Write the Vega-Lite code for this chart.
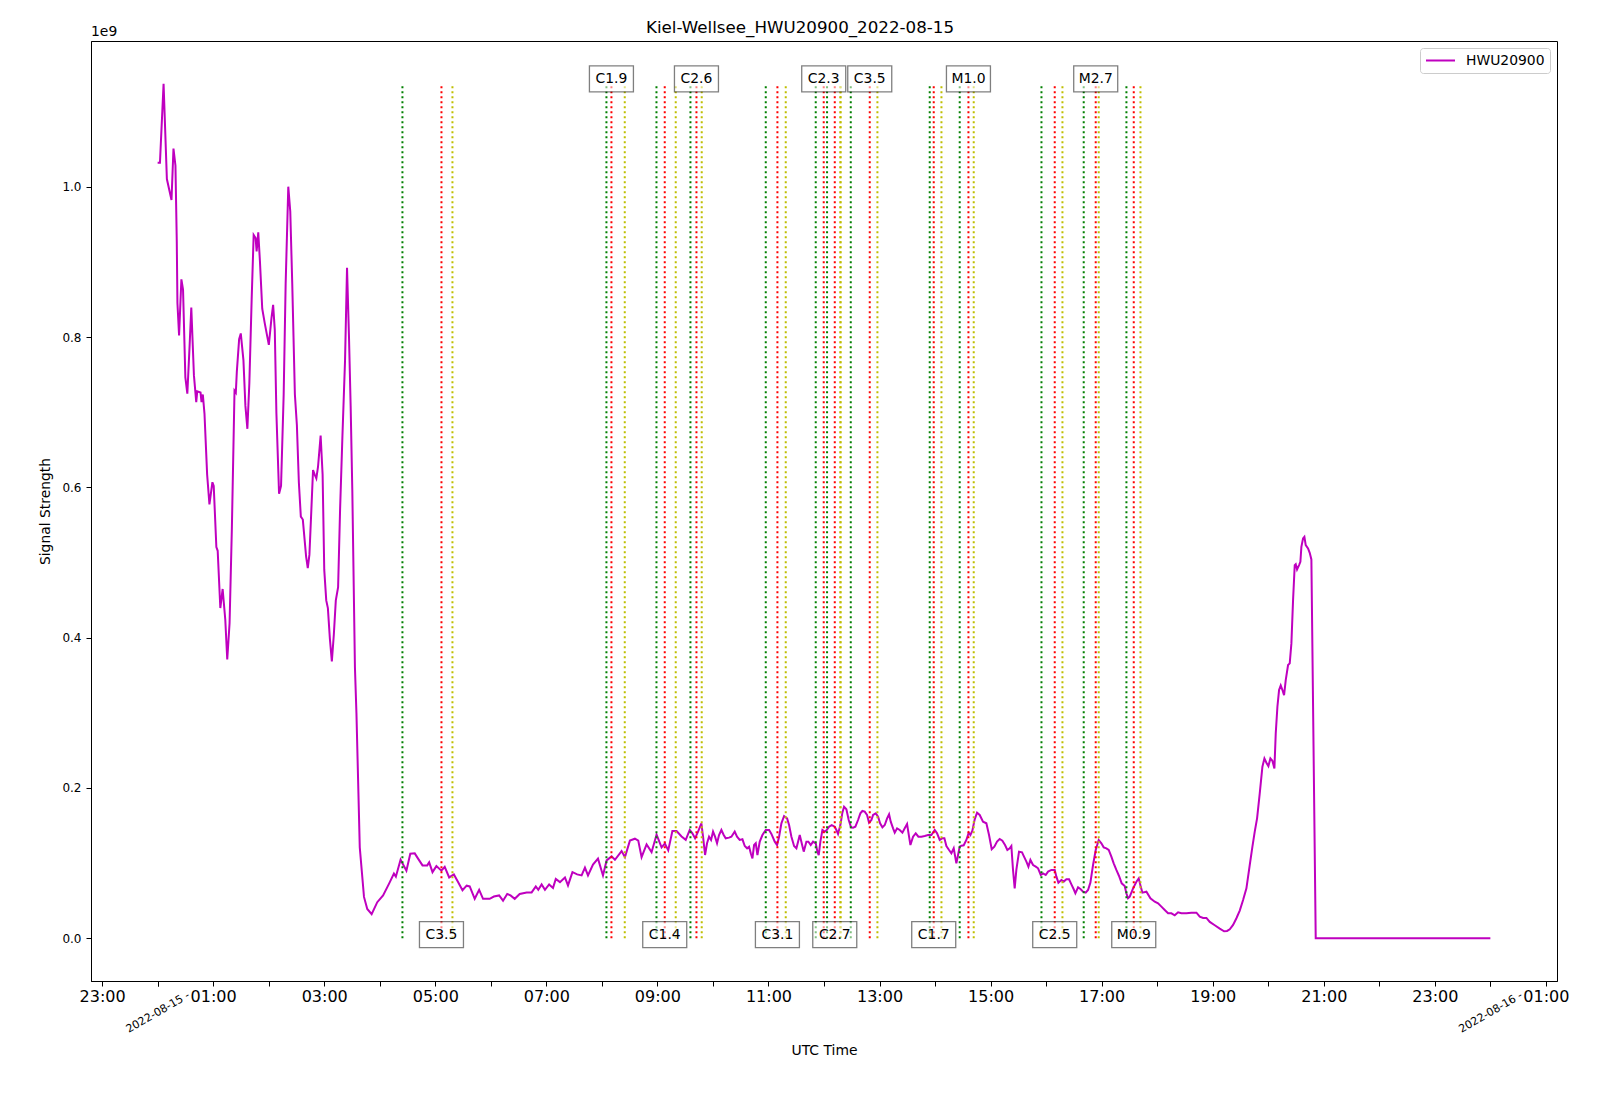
{
  "$schema": "https://vega.github.io/schema/vega-lite/v6.json",
  "width": 1466,
  "height": 940,
  "autosize": {"type": "none"},
  "padding": {"left": 91, "top": 41, "right": 43, "bottom": 121},
  "background": "white",
  "title": {
    "text": "Kiel-Wellsee_HWU20900_2022-08-15",
    "font": "DejaVu Sans",
    "fontSize": 16.7,
    "fontWeight": "normal",
    "color": "black",
    "anchor": "middle",
    "frame": "group",
    "dx": -24,
    "offset": -25,
    "baseline": "alphabetic"
  },
  "datasets": {
    "signal": [
      {"t": "2022-08-15T00:00:00Z", "v": 1.0324e9},
      {"t": "2022-08-15T00:02:30Z", "v": 1.0324e9},
      {"t": "2022-08-15T00:06:25Z", "v": 1.1374e9},
      {"t": "2022-08-15T00:09:59Z", "v": 1.0106e9},
      {"t": "2022-08-15T00:14:59Z", "v": 0.9827e9},
      {"t": "2022-08-15T00:17:07Z", "v": 1.0512e9},
      {"t": "2022-08-15T00:19:15Z", "v": 1.0284e9},
      {"t": "2022-08-15T00:20:41Z", "v": 0.9268e9},
      {"t": "2022-08-15T00:21:23Z", "v": 0.8456e9},
      {"t": "2022-08-15T00:23:10Z", "v": 0.8025e9},
      {"t": "2022-08-15T00:25:40Z", "v": 0.8771e9},
      {"t": "2022-08-15T00:27:27Z", "v": 0.8634e9},
      {"t": "2022-08-15T00:29:57Z", "v": 0.7466e9},
      {"t": "2022-08-15T00:32:05Z", "v": 0.7248e9},
      {"t": "2022-08-15T00:34:35Z", "v": 0.7898e9},
      {"t": "2022-08-15T00:36:22Z", "v": 0.8395e9},
      {"t": "2022-08-15T00:39:13Z", "v": 0.7492e9},
      {"t": "2022-08-15T00:41:43Z", "v": 0.7137e9},
      {"t": "2022-08-15T00:42:47Z", "v": 0.7279e9},
      {"t": "2022-08-15T00:46:21Z", "v": 0.7263e9},
      {"t": "2022-08-15T00:47:25Z", "v": 0.7137e9},
      {"t": "2022-08-15T00:48:50Z", "v": 0.7238e9},
      {"t": "2022-08-15T00:50:37Z", "v": 0.6984e9},
      {"t": "2022-08-15T00:53:29Z", "v": 0.6172e9},
      {"t": "2022-08-15T00:55:58Z", "v": 0.5776e9},
      {"t": "2022-08-15T00:59:11Z", "v": 0.6070e9},
      {"t": "2022-08-15T01:00:36Z", "v": 0.6020e9},
      {"t": "2022-08-15T01:03:27Z", "v": 0.5207e9},
      {"t": "2022-08-15T01:04:53Z", "v": 0.5157e9},
      {"t": "2022-08-15T01:07:44Z", "v": 0.4395e9},
      {"t": "2022-08-15T01:10:14Z", "v": 0.4649e9},
      {"t": "2022-08-15T01:13:05Z", "v": 0.4243e9},
      {"t": "2022-08-15T01:15:13Z", "v": 0.3710e9},
      {"t": "2022-08-15T01:17:43Z", "v": 0.4192e9},
      {"t": "2022-08-15T01:20:13Z", "v": 0.5461e9},
      {"t": "2022-08-15T01:23:04Z", "v": 0.7289e9},
      {"t": "2022-08-15T01:24:29Z", "v": 0.7263e9},
      {"t": "2022-08-15T01:25:34Z", "v": 0.7542e9},
      {"t": "2022-08-15T01:28:03Z", "v": 0.7974e9},
      {"t": "2022-08-15T01:29:50Z", "v": 0.8050e9},
      {"t": "2022-08-15T01:32:42Z", "v": 0.7695e9},
      {"t": "2022-08-15T01:34:50Z", "v": 0.7086e9},
      {"t": "2022-08-15T01:36:58Z", "v": 0.6781e9},
      {"t": "2022-08-15T01:39:06Z", "v": 0.7390e9},
      {"t": "2022-08-15T01:41:36Z", "v": 0.8507e9},
      {"t": "2022-08-15T01:43:45Z", "v": 0.9360e9},
      {"t": "2022-08-15T01:45:53Z", "v": 0.9319e9},
      {"t": "2022-08-15T01:46:57Z", "v": 0.9142e9},
      {"t": "2022-08-15T01:48:44Z", "v": 0.9396e9},
      {"t": "2022-08-15T01:50:31Z", "v": 0.9014e9},
      {"t": "2022-08-15T01:53:01Z", "v": 0.8380e9},
      {"t": "2022-08-15T01:55:52Z", "v": 0.8177e9},
      {"t": "2022-08-15T02:00:09Z", "v": 0.7898e9},
      {"t": "2022-08-15T02:03:00Z", "v": 0.8253e9},
      {"t": "2022-08-15T02:04:47Z", "v": 0.8431e9},
      {"t": "2022-08-15T02:06:34Z", "v": 0.8101e9},
      {"t": "2022-08-15T02:08:20Z", "v": 0.6984e9},
      {"t": "2022-08-15T02:11:12Z", "v": 0.5918e9},
      {"t": "2022-08-15T02:13:20Z", "v": 0.6020e9},
      {"t": "2022-08-15T02:16:11Z", "v": 0.7238e9},
      {"t": "2022-08-15T02:18:19Z", "v": 0.8710e9},
      {"t": "2022-08-15T02:21:10Z", "v": 1.0004e9},
      {"t": "2022-08-15T02:23:19Z", "v": 0.9674e9},
      {"t": "2022-08-15T02:25:27Z", "v": 0.8710e9},
      {"t": "2022-08-15T02:28:18Z", "v": 0.7238e9},
      {"t": "2022-08-15T02:30:27Z", "v": 0.6832e9},
      {"t": "2022-08-15T02:32:35Z", "v": 0.6070e9},
      {"t": "2022-08-15T02:34:43Z", "v": 0.5613e9},
      {"t": "2022-08-15T02:36:52Z", "v": 0.5573e9},
      {"t": "2022-08-15T02:40:26Z", "v": 0.5080e9},
      {"t": "2022-08-15T02:42:13Z", "v": 0.4928e9},
      {"t": "2022-08-15T02:44:00Z", "v": 0.5106e9},
      {"t": "2022-08-15T02:46:08Z", "v": 0.5715e9},
      {"t": "2022-08-15T02:47:55Z", "v": 0.6233e9},
      {"t": "2022-08-15T02:49:42Z", "v": 0.6172e9},
      {"t": "2022-08-15T02:51:29Z", "v": 0.6121e9},
      {"t": "2022-08-15T02:53:16Z", "v": 0.6273e9},
      {"t": "2022-08-15T02:56:07Z", "v": 0.6690e9},
      {"t": "2022-08-15T02:58:15Z", "v": 0.6172e9},
      {"t": "2022-08-15T03:00:02Z", "v": 0.4903e9},
      {"t": "2022-08-15T03:02:11Z", "v": 0.4497e9},
      {"t": "2022-08-15T03:03:57Z", "v": 0.4395e9},
      {"t": "2022-08-15T03:06:06Z", "v": 0.3989e9},
      {"t": "2022-08-15T03:08:14Z", "v": 0.3684e9},
      {"t": "2022-08-15T03:10:22Z", "v": 0.4040e9},
      {"t": "2022-08-15T03:12:31Z", "v": 0.4497e9},
      {"t": "2022-08-15T03:15:00Z", "v": 0.4674e9},
      {"t": "2022-08-15T03:17:09Z", "v": 0.5715e9},
      {"t": "2022-08-15T03:19:39Z", "v": 0.6679e9},
      {"t": "2022-08-15T03:22:30Z", "v": 0.7695e9},
      {"t": "2022-08-15T03:24:38Z", "v": 0.8923e9},
      {"t": "2022-08-15T03:26:46Z", "v": 0.8000e9},
      {"t": "2022-08-15T03:28:33Z", "v": 0.7086e9},
      {"t": "2022-08-15T03:30:20Z", "v": 0.5969e9},
      {"t": "2022-08-15T03:33:11Z", "v": 0.3603e9},
      {"t": "2022-08-15T03:34:48Z", "v": 0.300e9},
      {"t": "2022-08-15T03:38:24Z", "v": 0.121e9},
      {"t": "2022-08-15T03:42:58Z", "v": 0.055e9},
      {"t": "2022-08-15T03:46:30Z", "v": 0.039e9},
      {"t": "2022-08-15T03:51:14Z", "v": 0.032e9},
      {"t": "2022-08-15T03:57:18Z", "v": 0.048e9},
      {"t": "2022-08-15T04:03:36Z", "v": 0.057e9},
      {"t": "2022-08-15T04:10:12Z", "v": 0.073e9},
      {"t": "2022-08-15T04:15:18Z", "v": 0.086e9},
      {"t": "2022-08-15T04:17:24Z", "v": 0.082e9},
      {"t": "2022-08-15T04:22:30Z", "v": 0.1045e9},
      {"t": "2022-08-15T04:28:48Z", "v": 0.090e9},
      {"t": "2022-08-15T04:33:00Z", "v": 0.1125e9},
      {"t": "2022-08-15T04:37:48Z", "v": 0.113e9},
      {"t": "2022-08-15T04:41:24Z", "v": 0.106e9},
      {"t": "2022-08-15T04:46:12Z", "v": 0.097e9},
      {"t": "2022-08-15T04:51:18Z", "v": 0.097e9},
      {"t": "2022-08-15T04:53:24Z", "v": 0.101e9},
      {"t": "2022-08-15T04:57:00Z", "v": 0.088e9},
      {"t": "2022-08-15T05:01:12Z", "v": 0.096e9},
      {"t": "2022-08-15T05:06:36Z", "v": 0.090e9},
      {"t": "2022-08-15T05:10:12Z", "v": 0.095e9},
      {"t": "2022-08-15T05:15:00Z", "v": 0.081e9},
      {"t": "2022-08-15T05:20:06Z", "v": 0.085e9},
      {"t": "2022-08-15T05:24:36Z", "v": 0.075e9},
      {"t": "2022-08-15T05:29:24Z", "v": 0.064e9},
      {"t": "2022-08-15T05:33:54Z", "v": 0.070e9},
      {"t": "2022-08-15T05:37:12Z", "v": 0.069e9},
      {"t": "2022-08-15T05:42:36Z", "v": 0.0525e9},
      {"t": "2022-08-15T05:47:24Z", "v": 0.0645e9},
      {"t": "2022-08-15T05:51:36Z", "v": 0.0525e9},
      {"t": "2022-08-15T05:58:48Z", "v": 0.0525e9},
      {"t": "2022-08-15T06:03:18Z", "v": 0.0555e9},
      {"t": "2022-08-15T06:09:00Z", "v": 0.057e9},
      {"t": "2022-08-15T06:13:12Z", "v": 0.050e9},
      {"t": "2022-08-15T06:17:42Z", "v": 0.059e9},
      {"t": "2022-08-15T06:21:18Z", "v": 0.057e9},
      {"t": "2022-08-15T06:25:48Z", "v": 0.0525e9},
      {"t": "2022-08-15T06:31:12Z", "v": 0.059e9},
      {"t": "2022-08-15T06:38:42Z", "v": 0.061e9},
      {"t": "2022-08-15T06:44:06Z", "v": 0.061e9},
      {"t": "2022-08-15T06:48:36Z", "v": 0.069e9},
      {"t": "2022-08-15T06:51:18Z", "v": 0.0645e9},
      {"t": "2022-08-15T06:54:54Z", "v": 0.0716e9},
      {"t": "2022-08-15T06:58:30Z", "v": 0.0645e9},
      {"t": "2022-08-15T07:03:00Z", "v": 0.0716e9},
      {"t": "2022-08-15T07:07:12Z", "v": 0.067e9},
      {"t": "2022-08-15T07:10:12Z", "v": 0.079e9},
      {"t": "2022-08-15T07:14:42Z", "v": 0.0747e9},
      {"t": "2022-08-15T07:20:06Z", "v": 0.081e9},
      {"t": "2022-08-15T07:23:24Z", "v": 0.0703e9},
      {"t": "2022-08-15T07:28:12Z", "v": 0.088e9},
      {"t": "2022-08-15T07:33:18Z", "v": 0.085e9},
      {"t": "2022-08-15T07:38:06Z", "v": 0.0836e9},
      {"t": "2022-08-15T07:41:42Z", "v": 0.094e9},
      {"t": "2022-08-15T07:45:00Z", "v": 0.0836e9},
      {"t": "2022-08-15T07:50:24Z", "v": 0.098e9},
      {"t": "2022-08-15T07:55:48Z", "v": 0.106e9},
      {"t": "2022-08-15T08:01:12Z", "v": 0.0836e9},
      {"t": "2022-08-15T08:05:06Z", "v": 0.1036e9},
      {"t": "2022-08-15T08:10:30Z", "v": 0.109e9},
      {"t": "2022-08-15T08:14:06Z", "v": 0.1045e9},
      {"t": "2022-08-15T08:21:18Z", "v": 0.116e9},
      {"t": "2022-08-15T08:24:54Z", "v": 0.108e9},
      {"t": "2022-08-15T08:30:18Z", "v": 0.130e9},
      {"t": "2022-08-15T08:35:42Z", "v": 0.1325e9},
      {"t": "2022-08-15T08:39:18Z", "v": 0.130e9},
      {"t": "2022-08-15T08:42:54Z", "v": 0.108e9},
      {"t": "2022-08-15T08:48:18Z", "v": 0.125e9},
      {"t": "2022-08-15T08:53:42Z", "v": 0.1146e9},
      {"t": "2022-08-15T08:59:06Z", "v": 0.138e9},
      {"t": "2022-08-15T09:04:30Z", "v": 0.121e9},
      {"t": "2022-08-15T09:08:06Z", "v": 0.126e9},
      {"t": "2022-08-15T09:11:42Z", "v": 0.117e9},
      {"t": "2022-08-15T09:16:12Z", "v": 0.1426e9},
      {"t": "2022-08-15T09:20:42Z", "v": 0.1426e9},
      {"t": "2022-08-15T09:26:06Z", "v": 0.1355e9},
      {"t": "2022-08-15T09:30:36Z", "v": 0.131e9},
      {"t": "2022-08-15T09:34:55Z", "v": 0.1441e9},
      {"t": "2022-08-15T09:37:48Z", "v": 0.1397e9},
      {"t": "2022-08-15T09:40:41Z", "v": 0.1330e9},
      {"t": "2022-08-15T09:43:55Z", "v": 0.1419e9},
      {"t": "2022-08-15T09:47:31Z", "v": 0.1530e9},
      {"t": "2022-08-15T09:49:19Z", "v": 0.1352e9},
      {"t": "2022-08-15T09:51:29Z", "v": 0.1108e9},
      {"t": "2022-08-15T09:53:38Z", "v": 0.1264e9},
      {"t": "2022-08-15T09:55:48Z", "v": 0.1352e9},
      {"t": "2022-08-15T09:57:58Z", "v": 0.1308e9},
      {"t": "2022-08-15T10:00:07Z", "v": 0.1419e9},
      {"t": "2022-08-15T10:02:17Z", "v": 0.1352e9},
      {"t": "2022-08-15T10:04:26Z", "v": 0.1264e9},
      {"t": "2022-08-15T10:06:36Z", "v": 0.1374e9},
      {"t": "2022-08-15T10:09:07Z", "v": 0.1441e9},
      {"t": "2022-08-15T10:11:38Z", "v": 0.1374e9},
      {"t": "2022-08-15T10:13:48Z", "v": 0.1330e9},
      {"t": "2022-08-15T10:17:24Z", "v": 0.1339e9},
      {"t": "2022-08-15T10:19:55Z", "v": 0.1352e9},
      {"t": "2022-08-15T10:23:31Z", "v": 0.1419e9},
      {"t": "2022-08-15T10:26:02Z", "v": 0.1352e9},
      {"t": "2022-08-15T10:28:55Z", "v": 0.1308e9},
      {"t": "2022-08-15T10:31:52Z", "v": 0.1317e9},
      {"t": "2022-08-15T10:34:23Z", "v": 0.1228e9},
      {"t": "2022-08-15T10:36:54Z", "v": 0.1197e9},
      {"t": "2022-08-15T10:39:04Z", "v": 0.1219e9},
      {"t": "2022-08-15T10:40:52Z", "v": 0.1131e9},
      {"t": "2022-08-15T10:42:40Z", "v": 0.1064e9},
      {"t": "2022-08-15T10:44:28Z", "v": 0.1241e9},
      {"t": "2022-08-15T10:46:16Z", "v": 0.1264e9},
      {"t": "2022-08-15T10:48:04Z", "v": 0.1108e9},
      {"t": "2022-08-15T10:50:35Z", "v": 0.1286e9},
      {"t": "2022-08-15T10:53:28Z", "v": 0.1374e9},
      {"t": "2022-08-15T10:57:04Z", "v": 0.1441e9},
      {"t": "2022-08-15T11:00:40Z", "v": 0.1441e9},
      {"t": "2022-08-15T11:03:11Z", "v": 0.1388e9},
      {"t": "2022-08-15T11:06:47Z", "v": 0.1286e9},
      {"t": "2022-08-15T11:09:18Z", "v": 0.1241e9},
      {"t": "2022-08-15T11:11:28Z", "v": 0.1352e9},
      {"t": "2022-08-15T11:13:59Z", "v": 0.1530e9},
      {"t": "2022-08-15T11:16:52Z", "v": 0.1627e9},
      {"t": "2022-08-15T11:20:06Z", "v": 0.1596e9},
      {"t": "2022-08-15T11:22:16Z", "v": 0.1507e9},
      {"t": "2022-08-15T11:24:47Z", "v": 0.1352e9},
      {"t": "2022-08-15T11:27:40Z", "v": 0.1228e9},
      {"t": "2022-08-15T11:30:11Z", "v": 0.1197e9},
      {"t": "2022-08-15T11:31:59Z", "v": 0.1286e9},
      {"t": "2022-08-15T11:33:47Z", "v": 0.1374e9},
      {"t": "2022-08-15T11:35:56Z", "v": 0.1264e9},
      {"t": "2022-08-15T11:38:06Z", "v": 0.1153e9},
      {"t": "2022-08-15T11:40:59Z", "v": 0.1286e9},
      {"t": "2022-08-15T11:43:08Z", "v": 0.1286e9},
      {"t": "2022-08-15T11:45:40Z", "v": 0.1241e9},
      {"t": "2022-08-15T11:48:11Z", "v": 0.1286e9},
      {"t": "2022-08-15T11:51:04Z", "v": 0.1264e9},
      {"t": "2022-08-15T11:52:52Z", "v": 0.1153e9},
      {"t": "2022-08-15T11:54:18Z", "v": 0.1108e9},
      {"t": "2022-08-15T11:56:06Z", "v": 0.1286e9},
      {"t": "2022-08-15T11:58:16Z", "v": 0.1441e9},
      {"t": "2022-08-15T12:00:47Z", "v": 0.1419e9},
      {"t": "2022-08-15T12:02:56Z", "v": 0.1441e9},
      {"t": "2022-08-15T12:05:28Z", "v": 0.1485e9},
      {"t": "2022-08-15T12:08:20Z", "v": 0.1507e9},
      {"t": "2022-08-15T12:11:35Z", "v": 0.1485e9},
      {"t": "2022-08-15T12:13:23Z", "v": 0.1441e9},
      {"t": "2022-08-15T12:15:11Z", "v": 0.1388e9},
      {"t": "2022-08-15T12:17:42Z", "v": 0.1507e9},
      {"t": "2022-08-15T12:19:52Z", "v": 0.1672e9},
      {"t": "2022-08-15T12:21:40Z", "v": 0.1751e9},
      {"t": "2022-08-15T12:24:11Z", "v": 0.1716e9},
      {"t": "2022-08-15T12:26:42Z", "v": 0.1574e9},
      {"t": "2022-08-15T12:29:13Z", "v": 0.1476e9},
      {"t": "2022-08-15T12:31:23Z", "v": 0.1472e9},
      {"t": "2022-08-15T12:33:54Z", "v": 0.1485e9},
      {"t": "2022-08-15T12:36:47Z", "v": 0.1574e9},
      {"t": "2022-08-15T12:39:18Z", "v": 0.1663e9},
      {"t": "2022-08-15T12:41:28Z", "v": 0.1694e9},
      {"t": "2022-08-15T12:43:59Z", "v": 0.1685e9},
      {"t": "2022-08-15T12:46:30Z", "v": 0.1641e9},
      {"t": "2022-08-15T12:48:40Z", "v": 0.1539e9},
      {"t": "2022-08-15T12:51:14Z", "v": 0.1574e9},
      {"t": "2022-08-15T12:53:02Z", "v": 0.1641e9},
      {"t": "2022-08-15T12:55:55Z", "v": 0.1663e9},
      {"t": "2022-08-15T12:58:26Z", "v": 0.1618e9},
      {"t": "2022-08-15T13:00:36Z", "v": 0.1530e9},
      {"t": "2022-08-15T13:03:07Z", "v": 0.1476e9},
      {"t": "2022-08-15T13:05:38Z", "v": 0.1507e9},
      {"t": "2022-08-15T13:08:10Z", "v": 0.1596e9},
      {"t": "2022-08-15T13:10:19Z", "v": 0.1650e9},
      {"t": "2022-08-15T13:12:07Z", "v": 0.1552e9},
      {"t": "2022-08-15T13:14:38Z", "v": 0.1463e9},
      {"t": "2022-08-15T13:16:26Z", "v": 0.1405e9},
      {"t": "2022-08-15T13:18:58Z", "v": 0.1463e9},
      {"t": "2022-08-15T13:21:50Z", "v": 0.1441e9},
      {"t": "2022-08-15T13:24:43Z", "v": 0.1405e9},
      {"t": "2022-08-15T13:27:14Z", "v": 0.1463e9},
      {"t": "2022-08-15T13:29:46Z", "v": 0.1521e9},
      {"t": "2022-08-15T13:31:55Z", "v": 0.1352e9},
      {"t": "2022-08-15T13:33:22Z", "v": 0.1241e9},
      {"t": "2022-08-15T13:36:14Z", "v": 0.1352e9},
      {"t": "2022-08-15T13:39:07Z", "v": 0.1397e9},
      {"t": "2022-08-15T13:42:00Z", "v": 0.1352e9},
      {"t": "2022-08-15T13:45:14Z", "v": 0.1352e9},
      {"t": "2022-08-15T13:48:50Z", "v": 0.1361e9},
      {"t": "2022-08-15T13:52:26Z", "v": 0.1374e9},
      {"t": "2022-08-15T13:56:02Z", "v": 0.1374e9},
      {"t": "2022-08-15T13:59:38Z", "v": 0.1441e9},
      {"t": "2022-08-15T14:02:10Z", "v": 0.1397e9},
      {"t": "2022-08-15T14:05:02Z", "v": 0.1308e9},
      {"t": "2022-08-15T14:07:34Z", "v": 0.1330e9},
      {"t": "2022-08-15T14:10:05Z", "v": 0.1330e9},
      {"t": "2022-08-15T14:12:14Z", "v": 0.1228e9},
      {"t": "2022-08-15T14:15:07Z", "v": 0.1175e9},
      {"t": "2022-08-15T14:17:38Z", "v": 0.1131e9},
      {"t": "2022-08-15T14:20:10Z", "v": 0.1197e9},
      {"t": "2022-08-15T14:23:02Z", "v": 0.0997e9},
      {"t": "2022-08-15T14:24:50Z", "v": 0.1108e9},
      {"t": "2022-08-15T14:26:38Z", "v": 0.1219e9},
      {"t": "2022-08-15T14:28:26Z", "v": 0.1232e9},
      {"t": "2022-08-15T14:30:58Z", "v": 0.1237e9},
      {"t": "2022-08-15T14:33:50Z", "v": 0.1308e9},
      {"t": "2022-08-15T14:36:22Z", "v": 0.1405e9},
      {"t": "2022-08-15T14:38:10Z", "v": 0.1374e9},
      {"t": "2022-08-15T14:40:19Z", "v": 0.1432e9},
      {"t": "2022-08-15T14:42:50Z", "v": 0.1583e9},
      {"t": "2022-08-15T14:45:22Z", "v": 0.1672e9},
      {"t": "2022-08-15T14:48:14Z", "v": 0.1641e9},
      {"t": "2022-08-15T14:51:50Z", "v": 0.1552e9},
      {"t": "2022-08-15T14:55:26Z", "v": 0.1530e9},
      {"t": "2022-08-15T14:58:19Z", "v": 0.1374e9},
      {"t": "2022-08-15T15:01:12Z", "v": 0.1184e9},
      {"t": "2022-08-15T15:04:05Z", "v": 0.1219e9},
      {"t": "2022-08-15T15:06:58Z", "v": 0.1286e9},
      {"t": "2022-08-15T15:09:50Z", "v": 0.1321e9},
      {"t": "2022-08-15T15:12:43Z", "v": 0.1299e9},
      {"t": "2022-08-15T15:15:36Z", "v": 0.1241e9},
      {"t": "2022-08-15T15:18:07Z", "v": 0.1175e9},
      {"t": "2022-08-15T15:20:38Z", "v": 0.1197e9},
      {"t": "2022-08-15T15:22:26Z", "v": 0.1228e9},
      {"t": "2022-08-15T15:24:14Z", "v": 0.0909e9},
      {"t": "2022-08-15T15:26:02Z", "v": 0.0665e9},
      {"t": "2022-08-15T15:27:50Z", "v": 0.0909e9},
      {"t": "2022-08-15T15:30:43Z", "v": 0.1153e9},
      {"t": "2022-08-15T15:33:58Z", "v": 0.1144e9},
      {"t": "2022-08-15T15:36:07Z", "v": 0.1086e9},
      {"t": "2022-08-15T15:38:42Z", "v": 0.1020e9},
      {"t": "2022-08-15T15:40:52Z", "v": 0.0953e9},
      {"t": "2022-08-15T15:43:01Z", "v": 0.1042e9},
      {"t": "2022-08-15T15:45:54Z", "v": 0.0975e9},
      {"t": "2022-08-15T15:48:47Z", "v": 0.0953e9},
      {"t": "2022-08-15T15:51:18Z", "v": 0.0931e9},
      {"t": "2022-08-15T15:54:11Z", "v": 0.0842e9},
      {"t": "2022-08-15T15:56:42Z", "v": 0.0864e9},
      {"t": "2022-08-15T15:59:35Z", "v": 0.0842e9},
      {"t": "2022-08-15T16:02:06Z", "v": 0.0887e9},
      {"t": "2022-08-15T16:05:42Z", "v": 0.0909e9},
      {"t": "2022-08-15T16:09:18Z", "v": 0.0909e9},
      {"t": "2022-08-15T16:11:06Z", "v": 0.0820e9},
      {"t": "2022-08-15T16:13:16Z", "v": 0.0740e9},
      {"t": "2022-08-15T16:16:30Z", "v": 0.0776e9},
      {"t": "2022-08-15T16:19:01Z", "v": 0.0754e9},
      {"t": "2022-08-15T16:21:54Z", "v": 0.0785e9},
      {"t": "2022-08-15T16:24:47Z", "v": 0.0785e9},
      {"t": "2022-08-15T16:27:18Z", "v": 0.0718e9},
      {"t": "2022-08-15T16:29:49Z", "v": 0.0652e9},
      {"t": "2022-08-15T16:31:37Z", "v": 0.0598e9},
      {"t": "2022-08-15T16:34:30Z", "v": 0.0678e9},
      {"t": "2022-08-15T16:37:23Z", "v": 0.0652e9},
      {"t": "2022-08-15T16:39:54Z", "v": 0.0620e9},
      {"t": "2022-08-15T16:42:47Z", "v": 0.0607e9},
      {"t": "2022-08-15T16:45:18Z", "v": 0.0643e9},
      {"t": "2022-08-15T16:47:49Z", "v": 0.0740e9},
      {"t": "2022-08-15T16:50:42Z", "v": 0.0975e9},
      {"t": "2022-08-15T16:53:35Z", "v": 0.1175e9},
      {"t": "2022-08-15T16:56:49Z", "v": 0.1308e9},
      {"t": "2022-08-15T16:59:42Z", "v": 0.1264e9},
      {"t": "2022-08-15T17:02:13Z", "v": 0.1210e9},
      {"t": "2022-08-15T17:05:06Z", "v": 0.1197e9},
      {"t": "2022-08-15T17:07:37Z", "v": 0.1175e9},
      {"t": "2022-08-15T17:10:30Z", "v": 0.1086e9},
      {"t": "2022-08-15T17:13:01Z", "v": 0.0997e9},
      {"t": "2022-08-15T17:15:54Z", "v": 0.0909e9},
      {"t": "2022-08-15T17:18:47Z", "v": 0.0829e9},
      {"t": "2022-08-15T17:21:40Z", "v": 0.0731e9},
      {"t": "2022-08-15T17:24:54Z", "v": 0.0696e9},
      {"t": "2022-08-15T17:26:42Z", "v": 0.0598e9},
      {"t": "2022-08-15T17:28:30Z", "v": 0.0532e9},
      {"t": "2022-08-15T17:30:22Z", "v": 0.0554e9},
      {"t": "2022-08-15T17:33:58Z", "v": 0.0665e9},
      {"t": "2022-08-15T17:37:34Z", "v": 0.0753e9},
      {"t": "2022-08-15T17:40:05Z", "v": 0.0798e9},
      {"t": "2022-08-15T17:42:14Z", "v": 0.0687e9},
      {"t": "2022-08-15T17:44:02Z", "v": 0.0607e9},
      {"t": "2022-08-15T17:48:22Z", "v": 0.0620e9},
      {"t": "2022-08-15T17:52:41Z", "v": 0.0532e9},
      {"t": "2022-08-15T17:57:22Z", "v": 0.0487e9},
      {"t": "2022-08-15T18:00:58Z", "v": 0.0465e9},
      {"t": "2022-08-15T18:04:34Z", "v": 0.0421e9},
      {"t": "2022-08-15T18:08:10Z", "v": 0.0377e9},
      {"t": "2022-08-15T18:11:46Z", "v": 0.0332e9},
      {"t": "2022-08-15T18:15:22Z", "v": 0.0332e9},
      {"t": "2022-08-15T18:18:58Z", "v": 0.0306e9},
      {"t": "2022-08-15T18:22:34Z", "v": 0.0346e9},
      {"t": "2022-08-15T18:26:10Z", "v": 0.0332e9},
      {"t": "2022-08-15T18:31:34Z", "v": 0.0332e9},
      {"t": "2022-08-15T18:37:01Z", "v": 0.0341e9},
      {"t": "2022-08-15T18:42:25Z", "v": 0.0341e9},
      {"t": "2022-08-15T18:46:01Z", "v": 0.0288e9},
      {"t": "2022-08-15T18:49:37Z", "v": 0.0270e9},
      {"t": "2022-08-15T18:53:13Z", "v": 0.0270e9},
      {"t": "2022-08-15T18:56:49Z", "v": 0.0217e9},
      {"t": "2022-08-15T19:02:13Z", "v": 0.0173e9},
      {"t": "2022-08-15T19:07:37Z", "v": 0.0128e9},
      {"t": "2022-08-15T19:12:18Z", "v": 0.0093e9},
      {"t": "2022-08-15T19:15:32Z", "v": 0.0097e9},
      {"t": "2022-08-15T19:18:25Z", "v": 0.0119e9},
      {"t": "2022-08-15T19:22:01Z", "v": 0.0177e9},
      {"t": "2022-08-15T19:25:37Z", "v": 0.0266e9},
      {"t": "2022-08-15T19:29:13Z", "v": 0.0368e9},
      {"t": "2022-08-15T19:32:49Z", "v": 0.0510e9},
      {"t": "2022-08-15T19:36:25Z", "v": 0.0665e9},
      {"t": "2022-08-15T19:40:01Z", "v": 0.0975e9},
      {"t": "2022-08-15T19:42:54Z", "v": 0.1219e9},
      {"t": "2022-08-15T19:45:25Z", "v": 0.1419e9},
      {"t": "2022-08-15T19:47:56Z", "v": 0.1596e9},
      {"t": "2022-08-15T19:50:49Z", "v": 0.1929e9},
      {"t": "2022-08-15T19:53:42Z", "v": 0.2284e9},
      {"t": "2022-08-15T19:55:52Z", "v": 0.2394e9},
      {"t": "2022-08-15T19:58:01Z", "v": 0.2337e9},
      {"t": "2022-08-15T20:00:11Z", "v": 0.2292e9},
      {"t": "2022-08-15T20:02:20Z", "v": 0.2394e9},
      {"t": "2022-08-15T20:04:30Z", "v": 0.2363e9},
      {"t": "2022-08-15T20:06:40Z", "v": 0.2261e9},
      {"t": "2022-08-15T20:08:06Z", "v": 0.2727e9},
      {"t": "2022-08-15T20:09:54Z", "v": 0.3082e9},
      {"t": "2022-08-15T20:11:42Z", "v": 0.3304e9},
      {"t": "2022-08-15T20:13:30Z", "v": 0.3366e9},
      {"t": "2022-08-15T20:15:18Z", "v": 0.3304e9},
      {"t": "2022-08-15T20:17:06Z", "v": 0.3237e9},
      {"t": "2022-08-15T20:18:54Z", "v": 0.3437e9},
      {"t": "2022-08-15T20:21:25Z", "v": 0.3636e9},
      {"t": "2022-08-15T20:23:13Z", "v": 0.3659e9},
      {"t": "2022-08-15T20:25:01Z", "v": 0.3925e9},
      {"t": "2022-08-15T20:26:49Z", "v": 0.4501e9},
      {"t": "2022-08-15T20:28:37Z", "v": 0.4967e9},
      {"t": "2022-08-15T20:29:42Z", "v": 0.4980e9},
      {"t": "2022-08-15T20:31:08Z", "v": 0.4909e9},
      {"t": "2022-08-15T20:33:18Z", "v": 0.4967e9},
      {"t": "2022-08-15T20:34:44Z", "v": 0.5011e9},
      {"t": "2022-08-15T20:35:49Z", "v": 0.5211e9},
      {"t": "2022-08-15T20:37:37Z", "v": 0.5322e9},
      {"t": "2022-08-15T20:39:04Z", "v": 0.5344e9},
      {"t": "2022-08-15T20:40:30Z", "v": 0.5233e9},
      {"t": "2022-08-15T20:43:01Z", "v": 0.5189e9},
      {"t": "2022-08-15T20:44:49Z", "v": 0.5131e9},
      {"t": "2022-08-15T20:46:37Z", "v": 0.5042e9},
      {"t": "2022-08-15T20:51:18Z", "v": 0},
      {"t": "2022-08-16T00:00:00Z", "v": 0}
    ],
    "lines": [
      {"flare": "C3.5a", "kind": "start", "t": "2022-08-15T04:24:30Z"},
      {"flare": "C3.5a", "kind": "peak", "t": "2022-08-15T05:06:40Z"},
      {"flare": "C3.5a", "kind": "end", "t": "2022-08-15T05:18:32Z"},
      {"flare": "C1.9", "kind": "start", "t": "2022-08-15T08:04:55Z"},
      {"flare": "C1.9", "kind": "peak", "t": "2022-08-15T08:10:19Z"},
      {"flare": "C1.9", "kind": "end", "t": "2022-08-15T08:24:43Z"},
      {"flare": "C1.4", "kind": "start", "t": "2022-08-15T08:58:59Z"},
      {"flare": "C1.4", "kind": "peak", "t": "2022-08-15T09:07:55Z"},
      {"flare": "C1.4", "kind": "end", "t": "2022-08-15T09:19:48Z"},
      {"flare": "C2.6", "kind": "start", "t": "2022-08-15T09:35:42Z"},
      {"flare": "C2.6", "kind": "peak", "t": "2022-08-15T09:42:11Z"},
      {"flare": "C2.6", "kind": "end", "t": "2022-08-15T09:47:53Z"},
      {"flare": "C3.1", "kind": "start", "t": "2022-08-15T10:57:04Z"},
      {"flare": "C3.1", "kind": "peak", "t": "2022-08-15T11:09:40Z"},
      {"flare": "C3.1", "kind": "end", "t": "2022-08-15T11:18:40Z"},
      {"flare": "C2.3", "kind": "start", "t": "2022-08-15T11:51:04Z"},
      {"flare": "C2.3", "kind": "peak", "t": "2022-08-15T11:59:42Z"},
      {"flare": "C2.3", "kind": "end", "t": "2022-08-15T12:17:49Z"},
      {"flare": "C2.7", "kind": "start", "t": "2022-08-15T12:03:18Z"},
      {"flare": "C2.7", "kind": "peak", "t": "2022-08-15T12:11:38Z"},
      {"flare": "C2.7", "kind": "end", "t": "2022-08-15T12:17:49Z"},
      {"flare": "C3.5b", "kind": "start", "t": "2022-08-15T12:28:55Z"},
      {"flare": "C3.5b", "kind": "peak", "t": "2022-08-15T12:49:26Z"},
      {"flare": "C3.5b", "kind": "end", "t": "2022-08-15T12:57:43Z"},
      {"flare": "C1.7", "kind": "start", "t": "2022-08-15T13:54:14Z"},
      {"flare": "C1.7", "kind": "peak", "t": "2022-08-15T13:58:34Z"},
      {"flare": "C1.7", "kind": "end", "t": "2022-08-15T14:06:54Z"},
      {"flare": "M1.0", "kind": "start", "t": "2022-08-15T14:26:38Z"},
      {"flare": "M1.0", "kind": "peak", "t": "2022-08-15T14:36:04Z"},
      {"flare": "M1.0", "kind": "end", "t": "2022-08-15T14:41:46Z"},
      {"flare": "C2.5", "kind": "start", "t": "2022-08-15T15:54:58Z"},
      {"flare": "C2.5", "kind": "peak", "t": "2022-08-15T16:09:18Z"},
      {"flare": "C2.5", "kind": "end", "t": "2022-08-15T16:17:38Z"},
      {"flare": "M2.7", "kind": "start", "t": "2022-08-15T16:40:37Z"},
      {"flare": "M2.7", "kind": "peak", "t": "2022-08-15T16:53:35Z"},
      {"flare": "M2.7", "kind": "end", "t": "2022-08-15T16:56:49Z"},
      {"flare": "M0.9", "kind": "start", "t": "2022-08-15T17:26:46Z"},
      {"flare": "M0.9", "kind": "peak", "t": "2022-08-15T17:34:41Z"},
      {"flare": "M0.9", "kind": "end", "t": "2022-08-15T17:41:56Z"}
    ],
    "flares": [
      {"cls": "C3.5", "peak": "2022-08-15T05:06:40Z", "pos": "bottom"},
      {"cls": "C1.9", "peak": "2022-08-15T08:10:19Z", "pos": "top"},
      {"cls": "C1.4", "peak": "2022-08-15T09:07:55Z", "pos": "bottom"},
      {"cls": "C2.6", "peak": "2022-08-15T09:42:11Z", "pos": "top"},
      {"cls": "C3.1", "peak": "2022-08-15T11:09:40Z", "pos": "bottom"},
      {"cls": "C2.3", "peak": "2022-08-15T11:59:42Z", "pos": "top"},
      {"cls": "C2.7", "peak": "2022-08-15T12:11:38Z", "pos": "bottom"},
      {"cls": "C3.5", "peak": "2022-08-15T12:49:26Z", "pos": "top"},
      {"cls": "C1.7", "peak": "2022-08-15T13:58:34Z", "pos": "bottom"},
      {"cls": "M1.0", "peak": "2022-08-15T14:36:04Z", "pos": "top"},
      {"cls": "C2.5", "peak": "2022-08-15T16:09:18Z", "pos": "bottom"},
      {"cls": "M2.7", "peak": "2022-08-15T16:53:35Z", "pos": "top"},
      {"cls": "M0.9", "peak": "2022-08-15T17:34:41Z", "pos": "bottom"}
    ]
  },
  "layer": [
    {
      "data": {"name": "signal"},
      "mark": {"type": "line", "strokeWidth": 2, "clip": true},
      "encoding": {
        "x": {
          "field": "t",
          "type": "temporal",
          "title": "UTC Time",
          "scale": {
            "type": "utc",
            "domain": [1660517280000, 1660612320000],
            "nice": false
          },
          "axis": {
            "orient": "bottom",
            "values": [1660518000000, 1660521600000, 1660525200000, 1660528800000, 1660532400000, 1660536000000, 1660539600000, 1660543200000, 1660546800000, 1660550400000, 1660554000000, 1660557600000, 1660561200000, 1660564800000, 1660568400000, 1660572000000, 1660575600000, 1660579200000, 1660582800000, 1660586400000, 1660590000000, 1660593600000, 1660597200000, 1660600800000, 1660604400000, 1660608000000, 1660611600000],
            "labelExpr": "utchours(datum.value) % 2 == 1 ? utcFormat(datum.value, '%H:%M') : ''",
            "labelOverlap": false,
            "labelFlush": false,
            "labelBound": false,
            "labelFont": "DejaVu Sans",
            "labelFontSize": 16,
            "labelColor": "black",
            "labelBaseline": "top",
            "labelPadding": 2,
            "tickSize": 5,
            "tickColor": "black",
            "tickWidth": 1,
            "domainColor": "black",
            "domainWidth": 1,
            "grid": false,
            "titleFont": "DejaVu Sans",
            "titleFontSize": 13.9,
            "titleFontWeight": "normal",
            "titleColor": "black",
            "titleY": 73,
            "titleBaseline": "alphabetic"
          }
        },
        "y": {
          "field": "v",
          "type": "quantitative",
          "title": "Signal Strength",
          "scale": {"domain": [-56900000, 1194300000], "nice": false, "zero": false},
          "axis": {
            "values": [0, 200000000, 400000000, 600000000, 800000000, 1000000000],
            "labelExpr": "format(datum.value / 1e9, '.1f')",
            "labelFont": "DejaVu Sans",
            "labelFontSize": 12,
            "labelColor": "black",
            "labelPadding": 5,
            "tickSize": 5,
            "tickColor": "black",
            "tickWidth": 1,
            "domainColor": "black",
            "domainWidth": 1,
            "grid": false,
            "titleFont": "DejaVu Sans",
            "titleFontSize": 13.9,
            "titleFontWeight": "normal",
            "titleColor": "black",
            "titleX": -42,
            "titleBaseline": "alphabetic"
          }
        },
        "color": {
          "datum": "HWU20900",
          "scale": {"domain": ["HWU20900"], "range": ["#bf00bf"]},
          "legend": {
            "title": null,
            "orient": "top-right",
            "offset": 7,
            "padding": 5,
            "fillColor": "rgba(255,255,255,0.8)",
            "strokeColor": "#cccccc",
            "cornerRadius": 3,
            "labelFont": "DejaVu Sans",
            "labelFontSize": 13.9,
            "labelColor": "black",
            "labelOffset": 10,
            "symbolType": "stroke",
            "symbolSize": 841,
            "symbolStrokeWidth": 2,
            "clipHeight": 15
          }
        }
      }
    },
    {
      "data": {"name": "lines"},
      "mark": {"type": "rule", "strokeWidth": 2, "strokeDash": [2, 3]},
      "encoding": {
        "x": {
          "field": "t",
          "type": "temporal",
          "axis": {
            "orient": "bottom",
            "title": null,
            "values": [1660521600000, 1660608000000],
            "labelExpr": "utcFormat(datum.value, '%Y-%m-%d') + ' -'",
            "labelAngle": -30,
            "labelAlign": "center",
            "labelBaseline": "middle",
            "labelOverlap": false,
            "labelFlush": false,
            "labelBound": false,
            "labelFont": "DejaVu Sans",
            "labelFontSize": 11,
            "labelColor": "black",
            "labelPadding": 26,
            "tickSize": 5,
            "tickColor": "black",
            "tickWidth": 1,
            "domain": false,
            "grid": false
          }
        },
        "y": {"datum": 0, "type": "quantitative", "title": "Signal Strength"},
        "y2": {"datum": 1134000000},
        "color": {
          "field": "kind",
          "type": "nominal",
          "scale": {"domain": ["start", "peak", "end"], "range": ["#008000", "#ff0000", "#bfbf00"]},
          "legend": null
        }
      }
    },
    {
      "data": {"name": "flares"},
      "transform": [{"filter": "datum.pos == 'top'"}],
      "encoding": {
        "x": {"field": "peak", "type": "temporal", "axis": null},
        "y": {"datum": 1143800000, "type": "quantitative", "title": "Signal Strength"}
      },
      "layer": [
        {"mark": {"type": "rect", "width": 44, "height": 26, "fill": "white", "fillOpacity": 0.5, "stroke": "black", "strokeOpacity": 0.5, "strokeWidth": 1.3}},
        {"mark": {"type": "text", "font": "DejaVu Sans", "fontSize": 13.9, "color": "black", "align": "center", "baseline": "middle"}, "encoding": {"text": {"field": "cls"}}}
      ]
    },
    {
      "data": {"name": "flares"},
      "transform": [{"filter": "datum.pos == 'bottom'"}],
      "encoding": {
        "x": {"field": "peak", "type": "temporal", "axis": null},
        "y": {"datum": 4800000, "type": "quantitative", "title": "Signal Strength"}
      },
      "layer": [
        {"mark": {"type": "rect", "width": 44, "height": 26, "fill": "white", "fillOpacity": 0.5, "stroke": "black", "strokeOpacity": 0.5, "strokeWidth": 1.3}},
        {"mark": {"type": "text", "font": "DejaVu Sans", "fontSize": 13.9, "color": "black", "align": "center", "baseline": "middle"}, "encoding": {"text": {"field": "cls"}}}
      ]
    },
    {
      "data": {"values": [{}]},
      "mark": {"type": "text", "text": "1e9", "font": "DejaVu Sans", "fontSize": 13.9, "color": "black", "align": "left", "baseline": "alphabetic", "dy": -5},
      "encoding": {
        "x": {"datum": 1660517280000, "type": "temporal", "axis": null},
        "y": {"datum": 1194300000, "type": "quantitative", "title": "Signal Strength"}
      }
    }
  ],
  "resolve": {"scale": {"color": "independent"}, "axis": {"x": "independent"}},
  "config": {
    "view": {"stroke": "black", "strokeWidth": 1},
    "font": "DejaVu Sans"
  }
}
